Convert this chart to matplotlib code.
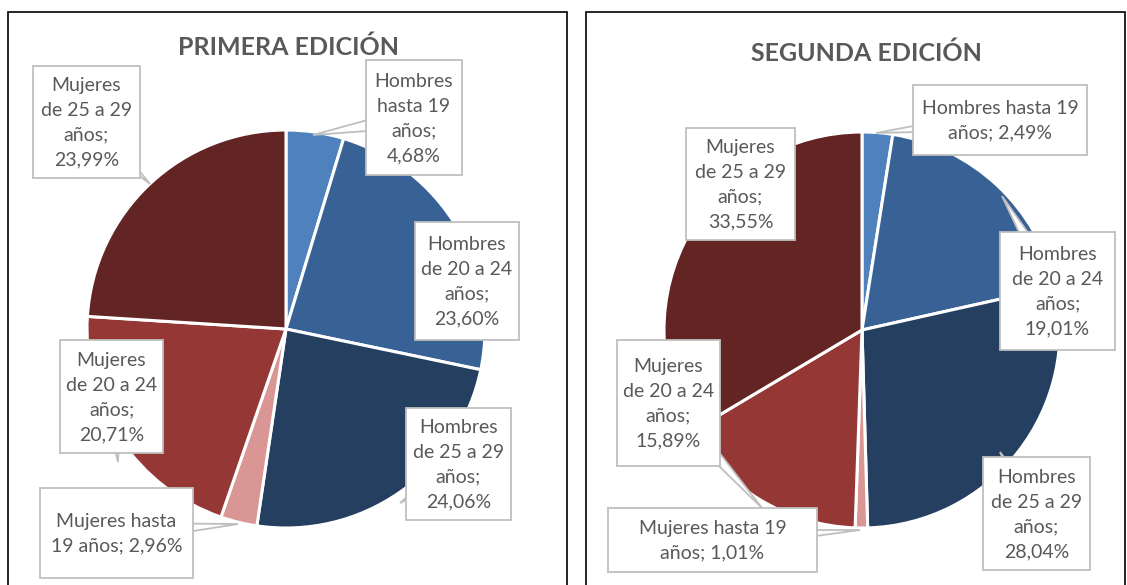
import numpy as np
import matplotlib.pyplot as plt
from matplotlib.patches import Rectangle, Polygon

plt.rcParams['font.family'] = ['Lato', 'DejaVu Sans']

# ---- Data
categorias = ["Hombres hasta 19 años", "Hombres de 20 a 24 años", "Hombres de 25 a 29 años",
              "Mujeres hasta 19 años", "Mujeres de 20 a 24 años", "Mujeres de 25 a 29 años"]
primera = [4.68, 23.60, 24.06, 2.96, 20.71, 23.99]
segunda = [2.49, 19.01, 28.04, 1.01, 15.89, 33.55]
colores = ["#4F81BD", "#386296", "#243F60", "#D99694", "#953735", "#632523"]

# label texts (line breaks as in the original callouts)
textos_1 = ["Hombres\nhasta 19\naños;\n4,68%", "Hombres\nde 20 a 24\naños;\n23,60%",
            "Hombres\nde 25 a 29\naños;\n24,06%", "Mujeres hasta\n19 años; 2,96%",
            "Mujeres\nde 20 a 24\naños;\n20,71%", "Mujeres\nde 25 a 29\naños;\n23,99%"]
textos_2 = ["Hombres hasta 19\naños; 2,49%", "Hombres\nde 20 a 24\naños;\n19,01%",
            "Hombres\nde 25 a 29\naños;\n28,04%", "Mujeres hasta 19\naños; 1,01%",
            "Mujeres\nde 20 a 24\naños;\n15,89%", "Mujeres\nde 25 a 29\naños;\n33,55%"]

W, H = 1127, 585
fig = plt.figure(figsize=(W / 100, H / 100), dpi=100)
ax = fig.add_axes([0, 0, 1, 1])

GRIS = "#595959"
BORDE = "#BFBFBF"

def Y(y):  # image pixel row -> data y
    return H - y

# ---- callout layout: (box x0, y0, x1, y1) in pixels, pointer tip or None
cajas_1 = [((366, 60, 462, 175), (313, 135)),
           ((415, 222, 519, 340), None),
           ((406, 408, 511, 520), (400, 503)),
           ((40, 488, 193, 578), (238, 524)),
           ((60, 340, 163, 453), (118, 462)),
           ((33, 66, 140, 178), (150, 184))]
cajas_2 = [((913, 85, 1087, 155), (876, 133)),
           ((1000, 232, 1115, 350), (1002, 196)),
           ((983, 457, 1090, 570), (1000, 452)),
           ((608, 508, 817, 572), (860, 530)),
           ((617, 340, 720, 466), (762, 508)),
           ((686, 128, 795, 240), None)]

def panel(x0, x1, titulo, tx, ty, valores, centro, radio, textos, cajas):
    ax.add_patch(Rectangle((x0, -5), x1 - x0, Y(12) + 5, fill=False,
                           ec="black", lw=1.2, zorder=1))
    ax.pie(valores, colors=colores, startangle=90, counterclock=False,
           center=(centro[0], Y(centro[1])), radius=radio,
           wedgeprops=dict(edgecolor="white", linewidth=2.2))
    ax.text(tx, Y(ty), titulo, ha="center", va="center", fontsize=18,
            fontweight="bold", color=GRIS, zorder=6)
    for texto, (caja, punta) in zip(textos, cajas):
        bx0, by0, bx1, by1 = caja
        cx, cy = (bx0 + bx1) / 2, (by0 + by1) / 2
        if punta is not None:
            d = np.array([punta[0] - cx, Y(punta[1]) - Y(cy)])
            n = np.array([-d[1], d[0]]) / np.hypot(*d) * 10
            tri = [(cx + n[0], Y(cy) + n[1]), (cx - n[0], Y(cy) - n[1]),
                   (punta[0], Y(punta[1]))]
            ax.add_patch(Polygon(tri, closed=True, fc="white", ec=BORDE,
                                 lw=1.3, zorder=4))
        ax.add_patch(Rectangle((bx0, Y(by1)), bx1 - bx0, by1 - by0,
                               fc="white", ec=BORDE, lw=1.3, zorder=5))
        ax.text(cx, Y(cy) - 1, texto, ha="center", va="center", fontsize=14,
                color=GRIS, linespacing=1.55, zorder=6)

panel(8, 567, "PRIMERA EDICIÓN", 288, 47, primera, (286, 329), 199, textos_1, cajas_1)
panel(586, 1125, "SEGUNDA EDICIÓN", 866, 53, segunda, (862, 330), 198, textos_2, cajas_2)

ax.set_xlim(0, W)
ax.set_ylim(0, H)
ax.set_aspect("equal")
ax.set_position([0, 0, 1, 1])
ax.axis("off")

fig.savefig("out.png", dpi=100)
